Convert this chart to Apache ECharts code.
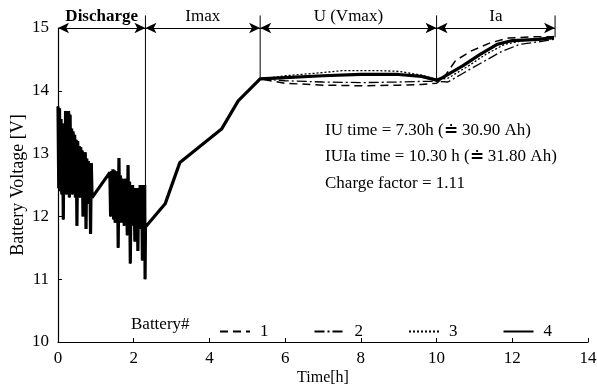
<!DOCTYPE html>
<html>
<head>
<meta charset="utf-8">
<script src="https://cdn.jsdelivr.net/npm/echarts@6/dist/echarts.min.js"></script>
<style>
  html, body { margin: 0; padding: 0; background: #fff; }
  #chart { width: 597px; height: 387px; }
</style>
</head>
<body>
<div id="chart"></div>
<script>
// discharge phase, shared by all batteries (spiky load profile)
const discharge = [
  [0.00, 13.75], [0.02, 12.45], [0.04, 13.72], [0.06, 12.4], [0.08, 13.55], [0.10, 12.35],
  [0.12, 13.48], [0.14, 11.95], [0.16, 13.45], [0.18, 12.4], [0.20, 13.68], [0.22, 12.35],
  [0.24, 13.66], [0.26, 12.45], [0.28, 13.68], [0.30, 12.3], [0.32, 13.62], [0.34, 12.4],
  [0.36, 13.4], [0.38, 12.35], [0.40, 13.35], [0.42, 12.45], [0.44, 13.3], [0.46, 12.3],
  [0.48, 13.22], [0.50, 11.85], [0.52, 13.2], [0.54, 12.35], [0.56, 13.12], [0.58, 12.3],
  [0.60, 13.1], [0.62, 12.4], [0.64, 13.05], [0.66, 12.0], [0.68, 12.98], [0.70, 12.3],
  [0.72, 13.02], [0.74, 11.8], [0.76, 12.92], [0.78, 12.35], [0.80, 12.88], [0.82, 12.2],
  [0.84, 12.85], [0.86, 11.72], [0.88, 12.85], [0.90, 12.3],
  [1.37, 12.7], [1.39, 12.0], [1.41, 12.72], [1.43, 12.05], [1.45, 12.75], [1.47, 11.95],
  [1.49, 12.73], [1.51, 11.9], [1.53, 12.7], [1.55, 11.95], [1.57, 12.72], [1.59, 11.5],
  [1.61, 12.93], [1.63, 11.9], [1.65, 12.65], [1.67, 11.95], [1.69, 12.6], [1.71, 11.9],
  [1.73, 12.55], [1.75, 11.85], [1.77, 12.6], [1.79, 11.9], [1.81, 12.6], [1.83, 11.7],
  [1.85, 12.82], [1.87, 11.9], [1.89, 12.55], [1.91, 11.25], [1.93, 12.5], [1.95, 11.85],
  [1.97, 12.5], [1.99, 11.9], [2.01, 12.45], [2.03, 11.6], [2.05, 12.45], [2.07, 11.85],
  [2.09, 12.4], [2.11, 11.45], [2.13, 12.45], [2.15, 11.85], [2.17, 12.5], [2.19, 11.8],
  [2.21, 12.5], [2.23, 11.3], [2.25, 12.5], [2.27, 11.8], [2.29, 12.5], [2.30, 11.0]
];
// Imax phase, shared
const imaxPhase = [[2.31, 11.83], [2.83, 12.2], [3.22, 12.86], [4.32, 13.39], [4.76, 13.84], [5.34, 14.19]];

// U (Vmax) + Ia phases, per battery
const battery1 = [[6.0, 14.12], [7.0, 14.09], [8.0, 14.08], [9.0, 14.09], [9.6, 14.1], [10.0, 14.12],
  [10.2, 14.22], [10.5, 14.48], [10.9, 14.63], [11.4, 14.76], [11.9, 14.84], [12.5, 14.86], [13.1, 14.86]];
const battery2 = [[6.0, 14.16], [7.0, 14.14], [8.0, 14.13], [9.0, 14.14], [9.6, 14.15], [10.0, 14.15],
  [10.3, 14.14], [10.7, 14.28], [11.2, 14.45], [11.7, 14.62], [12.2, 14.74], [12.7, 14.78], [13.1, 14.82]];
const battery3 = [[6.0, 14.24], [6.8, 14.28], [7.5, 14.32], [8.5, 14.32], [9.0, 14.31], [9.6, 14.25], [10.0, 14.18],
  [10.3, 14.2], [10.8, 14.38], [11.3, 14.58], [11.8, 14.74], [12.3, 14.8], [13.1, 14.83]];
const battery4 = [[6.0, 14.21], [7.0, 14.24], [8.0, 14.26], [9.0, 14.26], [9.6, 14.23], [10.0, 14.17],
  [10.1, 14.19], [10.7, 14.4], [11.15, 14.58], [11.6, 14.74], [12.0, 14.8], [12.7, 14.82], [13.1, 14.85]];

const batteryNames = ['1', '2', '3', '4'];
// phase boundaries [x, lower end of the marker line]
const phaseBounds = [[2.31, 11.0], [5.34, 14.19], [10.0, 14.17], [13.13, 14.85]];
const boundTop = 15.2;
const phaseLabels = ['Discharge', 'Imax', 'U (Vmax)', 'Ia'];
const notes = ['IU time = 7.30h (\u2250 30.90 Ah)', 'IUIa time = 10.30 h (\u2250 31.80 Ah)', 'Charge factor = 1.11'];

const serif = 'Liberation Serif';
const chart = echarts.init(document.getElementById('chart'), null, { renderer: 'canvas' })

const lineStyles = [
  { type: [8, 5], width: 1.5 },
  { type: [10, 3, 2, 3], width: 1.3 },
  { type: [2, 2], width: 1.3 },
  { type: 'solid', width: 3.2 },
]

const series = [battery1, battery2, battery3, battery4].map((b, i) => ({
  name: batteryNames[i],
  type: 'line',
  showSymbol: false,
  symbol: 'none',
  silent: true,
  z: i === 3 ? 5 : 3,
  data: discharge.concat(imaxPhase, b),
  lineStyle: Object.assign({ color: '#000' }, lineStyles[i]),
  itemStyle: { color: '#000' },
}))

// phase arrows along the top
const arrowData = phaseLabels.map((lbl, i) => {
  const x0 = i === 0 ? 0 : phaseBounds[i - 1][0]
  return [
    { coord: [x0, 15], label: { formatter: lbl, fontWeight: i === 0 ? 'bold' : 'normal' } },
    { coord: [phaseBounds[i][0], 15] },
  ]
})

series.push({
  name: 'phases',
  type: 'line',
  data: [],
  clip: false,
  silent: true,
  markLine: {
    silent: true,
    symbol: ['arrow', 'arrow'],
    symbolSize: [8, 11],
    lineStyle: { color: '#000', type: 'solid', width: 1 },
    label: {
      show: true,
      position: 'insideMiddleTop',
      distance: 3,
      color: '#000',
      fontFamily: serif,
      fontSize: 17,
    },
    data: arrowData,
    animation: false,
  },
})
// vertical phase boundary lines
series.push({
  name: 'bounds',
  type: 'custom',
  silent: true,
  clip: false,
  data: phaseBounds,
  renderItem: (params, api) => {
    const top = api.coord([api.value(0), boundTop])
    const bot = api.coord([api.value(0), api.value(1)])
    return {
      type: 'line',
      shape: { x1: top[0], y1: top[1], x2: bot[0], y2: bot[1] },
      style: { stroke: '#000', lineWidth: 1 },
    }
  },
})

chart.setOption({
  animation: false,
  backgroundColor: '#fff',
  textStyle: { fontFamily: serif, color: '#000' },
  grid: { left: 58, right: 9, top: 28, bottom: 45, outerBoundsMode: 'none' },
  legend: {
    data: batteryNames,
    left: 214,
    top: 318,
    itemWidth: 30,
    itemHeight: 14,
    itemGap: 45,
    itemStyle: { opacity: 0 },
    textStyle: { fontFamily: serif, fontSize: 17, color: '#000', padding: [0, 0, 0, 5] },
    inactiveColor: '#000',
  },
  graphic: [
    { type: 'text', left: 131, top: 316, style: { text: 'Battery#', font: '17px ' + serif, fill: '#000' } },
    ...notes.map((t, i) => ({
      type: 'text', left: 325, top: 122 + i * 26.5,
      style: { text: t, font: '17px ' + serif, fill: '#000' },
    })),
  ],
  xAxis: {
    type: 'value',
    min: 0,
    max: 14,
    interval: 2,
    name: 'Time[h]',
    nameLocation: 'middle',
    nameGap: 28,
    nameMoveOverlap: false,
    nameTextStyle: { fontFamily: serif, fontSize: 16, color: '#000' },
    axisLine: { lineStyle: { color: '#000', width: 1.2 } },
    axisTick: { inside: true, length: 4, lineStyle: { color: '#000' } },
    axisLabel: { fontFamily: serif, fontSize: 17, color: '#000', margin: 8 },
    splitLine: { show: false },
  },
  yAxis: {
    type: 'value',
    min: 10,
    max: 15,
    interval: 1,
    name: 'Battery Voltage [V]',
    nameLocation: 'middle',
    nameGap: 31,
    nameMoveOverlap: false,
    nameTextStyle: { fontFamily: serif, fontSize: 18, color: '#000' },
    axisLine: { show: true, lineStyle: { color: '#000', width: 1.2 } },
    axisTick: { show: true, inside: true, length: 4, lineStyle: { color: '#000' } },
    axisLabel: { fontFamily: serif, fontSize: 17, color: '#000', margin: 9 },
    splitLine: { show: false },
  },
  series: series,
})
</script>
</body>
</html>
